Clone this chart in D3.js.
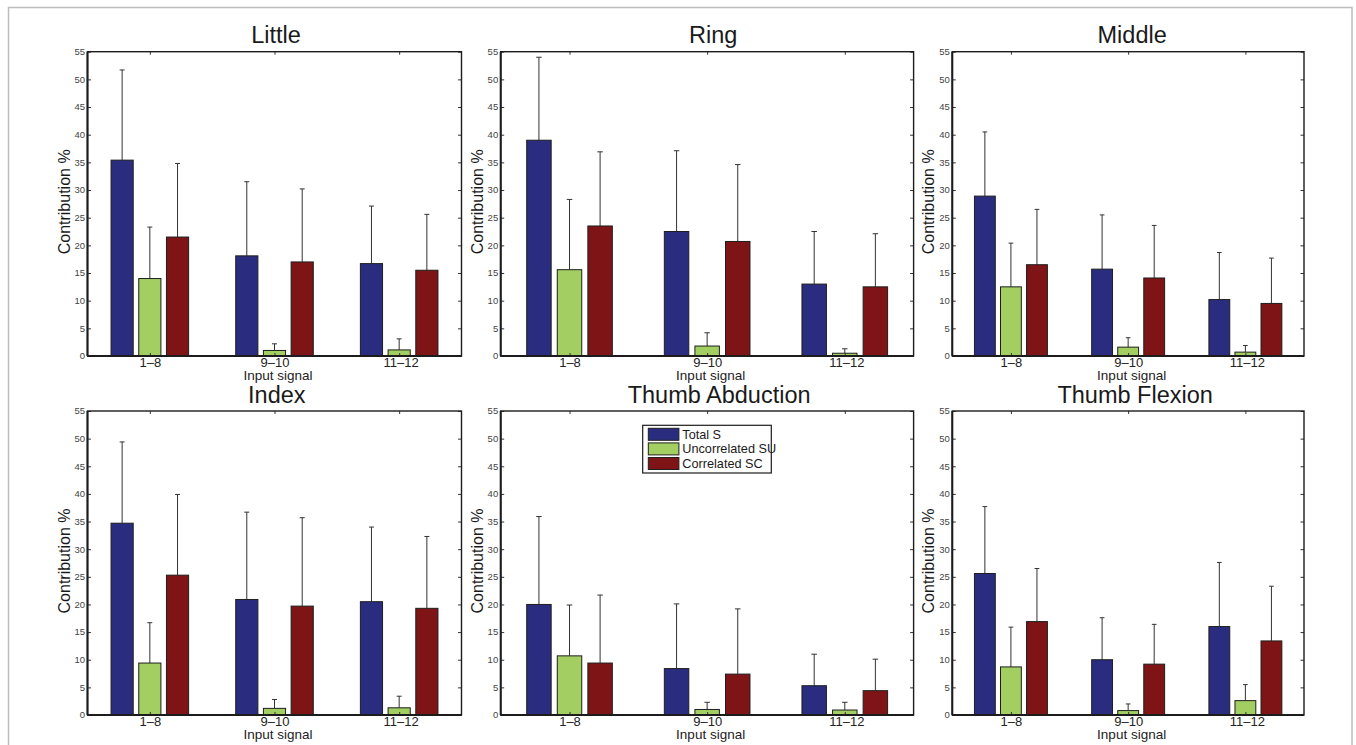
<!DOCTYPE html>
<html>
<head>
<meta charset="utf-8">
<script src="https://cdn.jsdelivr.net/npm/d3@7"></script>
<style>
  html, body { margin: 0; padding: 0; background: #fff; }
  svg { display: block; font-family: "Liberation Sans", Arial, Helvetica, sans-serif; }
</style>
</head>
<body>
<svg id="chart" width="1356" height="745"></svg>
<script>
// ---------------- DATA ----------------
const panelTitles = ["Little", "Ring", "Middle", "Index", "Thumb Abduction", "Thumb Flexion"];
const categories = ["1\u20138", "9\u201310", "11\u201312"];
const seriesNames = ["Total S", "Uncorrelated SU", "Correlated SC"];
const yTicks = [0, 5, 10, 15, 20, 25, 30, 35, 40, 45, 50, 55];

// mean contribution (%) per panel, per input-signal category
const totalS = [
  [35.4, 18.1, 16.7],
  [39.0, 22.5, 13.0],
  [28.9, 15.7, 10.2],
  [34.7, 20.9, 20.5],
  [20.0, 8.4, 5.3],
  [25.6, 10.0, 16.0]
];
const uncorrelatedSU = [
  [14.0, 1.0, 1.1],
  [15.6, 1.8, 0.5],
  [12.5, 1.6, 0.7],
  [9.4, 1.2, 1.3],
  [10.7, 1.0, 0.9],
  [8.7, 0.8, 2.6]
];
const correlatedSC = [
  [21.5, 17.0, 15.5],
  [23.5, 20.7, 12.5],
  [16.5, 14.1, 9.5],
  [25.3, 19.7, 19.3],
  [9.4, 7.4, 4.4],
  [16.9, 9.2, 13.4]
];
// standard deviations (upper error bars)
const totalSErr = [
  [16.3, 13.4, 10.4],
  [15.0, 14.6, 9.5],
  [11.6, 9.8, 8.5],
  [14.7, 15.8, 13.5],
  [15.9, 11.7, 5.7],
  [12.1, 7.6, 11.6]
];
const uncorrelatedSUErr = [
  [9.3, 1.2, 2.0],
  [12.7, 2.4, 0.8],
  [7.9, 1.7, 1.2],
  [7.3, 1.6, 2.1],
  [9.2, 1.3, 1.4],
  [7.2, 1.2, 2.9]
];
const correlatedSCErr = [
  [13.3, 13.2, 10.1],
  [13.4, 13.9, 9.6],
  [10.0, 9.5, 8.2],
  [14.6, 16.0, 13.0],
  [12.3, 11.8, 5.7],
  [9.6, 7.2, 9.9]
];

// ---------------- LAYOUT / STYLE ----------------
const colors = ["#2a2d7f", "#a3cf62", "#7e1416"];
const colBounds = [[87.5, 461.5], [500.7, 913.6], [952.3, 1304]];
const rowBounds = [[51.7, 356], [411, 715]];
const titleDx = [1.5, 6, 4, 2.3, 12, 7];

const svg = d3.select("#chart");

// outer light frame
svg.append("rect")
  .attr("x", 8.5).attr("y", 7.5)
  .attr("width", 1343.5).attr("height", 760)
  .attr("fill", "none").attr("stroke", "#bdbdbd").attr("stroke-width", 1.5);

const means = [totalS, uncorrelatedSU, correlatedSC];
const errs = [totalSErr, uncorrelatedSUErr, correlatedSCErr];

panelTitles.forEach((title, p) => {
  const [x0, x1] = colBounds[p % 3];
  const [y0, y1] = rowBounds[Math.floor(p / 3)];

  const x = d3.scaleLinear().domain([0.5, categories.length + 0.5]).range([x0, x1]);
  const y = d3.scaleLinear().domain([0, 55]).range([y1, y0]);

  const g = svg.append("g");

  // MATLAB grouped bar geometry
  const nS = seriesNames.length;
  const groupW = Math.min(0.8, nS / (nS + 1.5));
  const step = groupW / nS;
  const barW = step * 0.8;

  const barData = [];
  categories.forEach((c, ci) => {
    for (let s = 0; s < nS; s++) {
      const center = (ci + 1) - groupW / 2 + step * (s + 0.5);
      barData.push({ s, center, v: means[s][p][ci], e: errs[s][p][ci] });
    }
  });

  // error bars (upper only)
  const capW = 0.02;
  const eg = g.append("g").attr("stroke", "#333").attr("stroke-width", 1);
  eg.selectAll("line.eb").data(barData).join("line")
    .attr("x1", d => x(d.center)).attr("x2", d => x(d.center))
    .attr("y1", d => y(d.v)).attr("y2", d => y(d.v + d.e));
  eg.selectAll("line.cap").data(barData).join("line")
    .attr("x1", d => x(d.center - capW)).attr("x2", d => x(d.center + capW))
    .attr("y1", d => y(d.v + d.e)).attr("y2", d => y(d.v + d.e));

  // bars
  g.append("g").selectAll("rect").data(barData).join("rect")
    .attr("x", d => x(d.center - barW / 2))
    .attr("width", d => x(d.center + barW / 2) - x(d.center - barW / 2))
    .attr("y", d => y(d.v))
    .attr("height", d => y(0) - y(d.v))
    .attr("fill", d => colors[d.s])
    .attr("stroke", "#1e1e1e").attr("stroke-width", 1);

  // y axes (left labelled, right mirrored) with inward ticks
  const yAxisL = d3.axisRight(y).tickValues(yTicks).tickSize(3.5).tickFormat("");
  const gl = g.append("g").attr("transform", `translate(${x0},0)`).call(yAxisL);
  const yAxisR = d3.axisLeft(y).tickValues(yTicks).tickSize(3.5).tickFormat("");
  const gr = g.append("g").attr("transform", `translate(${x1},0)`).call(yAxisR);
  [gl, gr].forEach(a => {
    a.select(".domain").remove();
    a.selectAll(".tick line").attr("stroke", "#333").attr("stroke-width", 1);
  });
  // y tick labels
  g.append("g").selectAll("text").data(yTicks).join("text")
    .attr("x", x0 - 2.5).attr("y", d => y(d)).attr("dy", "0.35em")
    .attr("text-anchor", "end").attr("font-size", 9.5).attr("fill", "#444")
    .text(d => d);

  // x axes (bottom labelled, top mirrored) with inward ticks
  const xAxisB = d3.axisTop(x).tickValues(d3.range(1, categories.length + 1)).tickSize(3).tickFormat("");
  const gb = g.append("g").attr("transform", `translate(0,${y1})`).call(xAxisB);
  const xAxisT = d3.axisBottom(x).tickValues(d3.range(1, categories.length + 1)).tickSize(3).tickFormat("");
  const gt = g.append("g").attr("transform", `translate(0,${y0})`).call(xAxisT);
  [gb, gt].forEach(a => {
    a.select(".domain").remove();
    a.selectAll(".tick line").attr("stroke", "#333").attr("stroke-width", 1);
  });
  g.append("g").selectAll("text").data(categories).join("text")
    .attr("x", (d, i) => x(i + 1) + (i === 2 ? 2 : 0.5)).attr("y", y1 + 10.5)
    .attr("text-anchor", "middle").attr("font-size", 13).attr("fill", "#222")
    .text(d => d);

  // box frame
  g.append("rect")
    .attr("x", x0).attr("y", y0).attr("width", x1 - x0).attr("height", y1 - y0)
    .attr("fill", "none").attr("stroke", "#1c1c1c").attr("stroke-width", 1.4);
  // baseline and left axis (thicker)
  g.append("line")
    .attr("x1", x0).attr("x2", x1).attr("y1", y(0)).attr("y2", y(0))
    .attr("stroke", "#1c1c1c").attr("stroke-width", 2);
  g.append("line")
    .attr("x1", x0).attr("x2", x0).attr("y1", y0).attr("y2", y1)
    .attr("stroke", "#1c1c1c").attr("stroke-width", 2);

  // labels
  g.append("text")
    .attr("x", (x0 + x1) / 2 + titleDx[p]).attr("y", y0 - 8.5)
    .attr("text-anchor", "middle").attr("font-size", 23.5).attr("fill", "#1a1a1a")
    .text(title);
  g.append("text")
    .attr("x", (x0 + x1) / 2 + 3.5).attr("y", y1 + 23.5)
    .attr("text-anchor", "middle").attr("font-size", 13.5).attr("fill", "#222")
    .text("Input signal");
  g.append("text")
    .attr("transform", `translate(${x0 - 18},${(y0 + y1) / 2 - 2}) rotate(-90)`)
    .attr("text-anchor", "middle").attr("font-size", 16).attr("fill", "#1a1a1a")
    .text("Contribution %");

  // legend in the Thumb Abduction panel
  if (p === 4) {
    const lg = svg.append("g");
    const lx = 642.7, ly = 425.3, lw = 128.6, lh = 47.7;
    lg.append("rect").attr("x", lx).attr("y", ly).attr("width", lw).attr("height", lh)
      .attr("fill", "#fff").attr("stroke", "#1c1c1c").attr("stroke-width", 1.2);
    seriesNames.forEach((name, i) => {
      const ry = ly + 3 + i * 14.6;
      lg.append("rect").attr("x", lx + 5.6).attr("y", ry).attr("width", 30.6).attr("height", 12)
        .attr("fill", colors[i]).attr("stroke", "#1e1e1e").attr("stroke-width", 1);
      lg.append("text").attr("x", lx + 39.6).attr("y", ry + 10.3)
        .attr("font-size", 12.7).attr("fill", "#1a1a1a").text(name);
    });
  }
});
</script>
</body>
</html>
